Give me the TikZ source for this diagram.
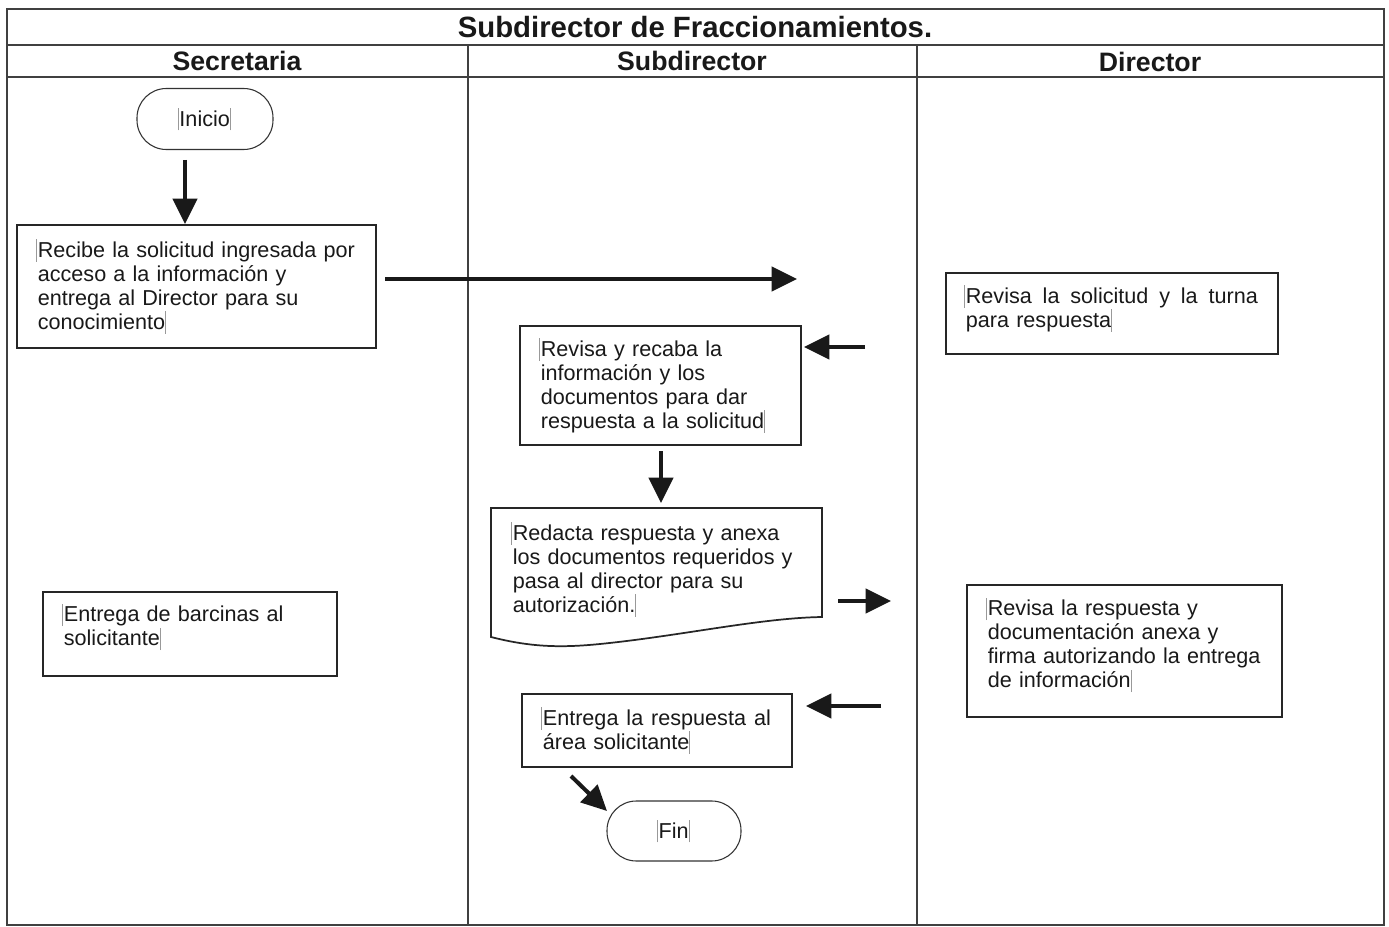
\documentclass[tikz,border=0pt]{standalone}
\usepackage{fontspec}
\setmainfont{Liberation Sans}
\usetikzlibrary{arrows.meta}
% faint text-cursor marks
\newcommand\crs{{\color{black!40}\rule[-0.2em]{0.45pt}{1.05em}}}
\newcommand\crsl{\llap{\crs\kern0.6pt}}

\begin{document}
\begin{tikzpicture}[x=0.75pt,y=-0.75pt,
  frame/.style={draw=black!75,line width=1.1pt},
  lanehead/.style={font=\bfseries\fontsize{20}{24}\selectfont,text=black!90},
  stepbox/.style={draw=black!85,line width=1.3pt,anchor=north west,
    inner xsep=15.75pt,inner ysep=0pt,align=left,
    font=\fontsize{16.2}{18}\selectfont,text=black!90},
  term/.style={draw=black!80,line width=0.8pt,rounded corners=22pt,
    minimum width=102pt,minimum height=45.75pt,
    font=\fontsize{16.2}{18}\selectfont,text=black!90},
  flow/.style={line width=3pt,draw=black!90,
    -{Triangle[length=19pt,width=18pt]}}
]
\fill[white] (0,0) rectangle (1389,927);
\useasboundingbox (0,0) rectangle (1389,927);

% swimlane frame
\draw[frame] (7,9) rectangle (1384,925);
\draw[frame] (7,45) -- (1384,45);
\draw[frame] (7,77) -- (1384,77);
\draw[frame] (468,45) -- (468,925);
\draw[frame] (917,45) -- (917,925);

\node[lanehead,font=\bfseries\fontsize{22}{26}\selectfont] (title) at (695,27) {Subdirector de Fraccionamientos.};
\node[lanehead] (sec) at (237,61) {Secretaria};
\node[lanehead] (sub) at (692,61) {Subdirector};
\node[lanehead] (dir) at (1150,62) {Director};

% steps
\node[term] (ini) at (205,119) {\crsl Inicio\crs};

\node[stepbox,minimum width=269.25pt,minimum height=92.25pt,text width=237.75pt] (r1) at (16,224)
  {\crsl Recibe la solicitud ingresada por\\acceso a la información y\\entrega al Director para su\\conocimiento\crs};

\node[stepbox,minimum width=249pt,minimum height=60.75pt,inner xsep=15pt,text width=219pt,text depth=28.7pt] (d1) at (945,272)
  {\crsl Revisa\hfill la\hfill solicitud\hfill y\hfill la\hfill turna\\para respuesta\crs};

\node[stepbox,minimum width=210.75pt,minimum height=89.25pt,text width=179.25pt] (r2) at (519,325)
  {\crsl Revisa y recaba la\\información y los\\documentos para dar\\respuesta a la solicitud\crs};

\node[stepbox,draw=none,minimum width=248.25pt,minimum height=90.75pt,text width=216.75pt] (doc) at (491,508)
  {\crsl Redacta respuesta y anexa\\los documentos requeridos y\\pasa al director para su\\autorización.\crs};
\draw[draw=black!85,line width=1.3pt] (491,508) -- (822,508) -- (822,617)
  .. controls (760,618) and (680,636) .. (600,644)
  .. controls (560,648) and (530,647) .. (491,637) -- cycle;

\node[stepbox,minimum width=220.5pt,minimum height=63pt,text width=189pt,text depth=31.7pt] (s2) at (42,591)
  {\crsl Entrega de barcinas al\\solicitante\crs};

\node[stepbox,minimum width=234.75pt,minimum height=99pt,text width=205pt,text depth=66.2pt] (d2) at (966,584)
  {\crsl Revisa la respuesta y\\documentación anexa y\\firma autorizando la entrega\\de información\crs};

\node[stepbox,minimum width=202.5pt,minimum height=54.75pt,text width=171pt] (r3) at (521,693)
  {\crsl Entrega\hfill la\hfill respuesta\hfill al\\área solicitante\crs};

\node[term,minimum width=100.5pt,minimum height=45pt] (fin) at (674,831) {\crsl Fin\crs};

% connectors
\coordinate (a1) at (185,160);
\draw[flow] (a1) -- (a1 |- r1.north);

\coordinate (a2s) at (385,279);
\coordinate (a2e) at (797,279);
\draw[flow] (a2s) -- (a2e);

\coordinate (a3s) at (865,347);
\coordinate (a3e) at (804,347);
\draw[flow] (a3s) -- (a3e);

\coordinate (a4s) at (661,451);
\coordinate (a4e) at (661,503);
\draw[flow] (a4s) -- (a4e);

\coordinate (a5s) at (838,601);
\coordinate (a5e) at (891,601);
\draw[flow] (a5s) -- (a5e);

\coordinate (a6s) at (881,706);
\coordinate (a6e) at (806,706);
\draw[flow] (a6s) -- (a6e);

\coordinate (a7s) at (571,776);
\coordinate (a7e) at (607,811);
\draw[flow] (a7s) -- (a7e);
\end{tikzpicture}
\end{document}
